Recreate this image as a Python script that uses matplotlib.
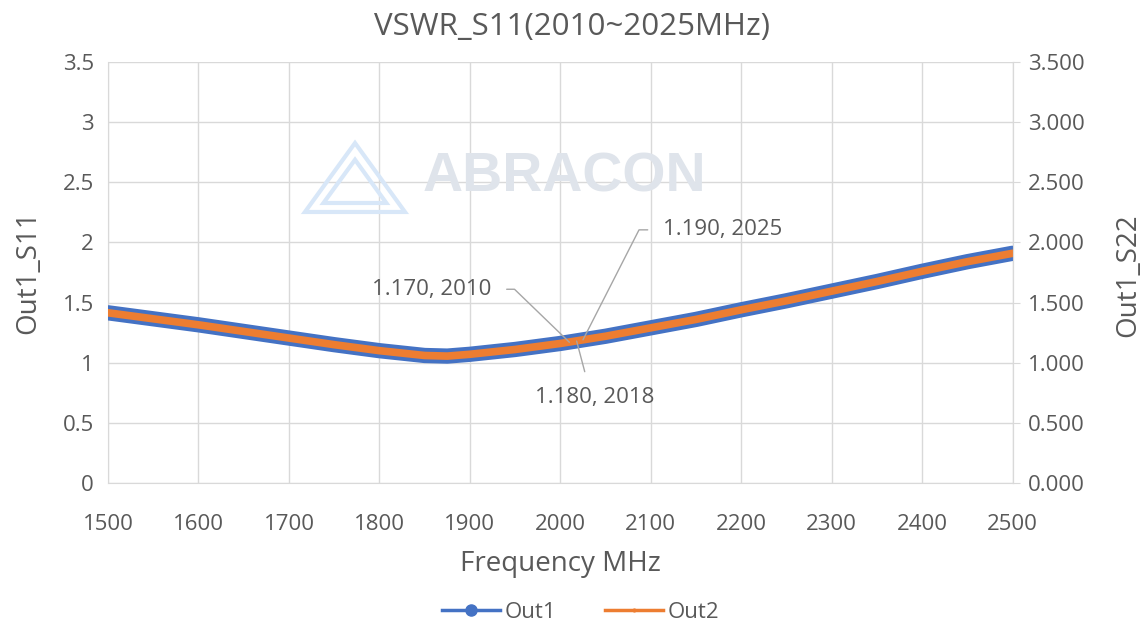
import matplotlib.pyplot as plt
from matplotlib.lines import Line2D
from matplotlib.patches import Polygon

# data
freq = [1500, 1550, 1600, 1650, 1700, 1750, 1800, 1850, 1875, 1900, 1950, 2000,
        2050, 2100, 2150, 2200, 2250, 2300, 2350, 2400, 2450, 2500]
out1 = [1.415, 1.365, 1.315, 1.26, 1.205, 1.15, 1.10, 1.06, 1.055, 1.07, 1.11, 1.16,
        1.22, 1.29, 1.36, 1.44, 1.515, 1.595, 1.675, 1.76, 1.84, 1.91]
out2 = [1.415, 1.365, 1.315, 1.26, 1.205, 1.15, 1.10, 1.06, 1.055, 1.07, 1.11, 1.16,
        1.22, 1.29, 1.36, 1.44, 1.515, 1.595, 1.675, 1.76, 1.84, 1.91]
x_ticks = [1500, 1600, 1700, 1800, 1900, 2000, 2100, 2200, 2300, 2400, 2500]
y_ticks = [0, 0.5, 1, 1.5, 2, 2.5, 3, 3.5]
left_labels = ['0', '0.5', '1', '1.5', '2', '2.5', '3', '3.5']
right_labels = ['0.000', '0.500', '1.000', '1.500', '2.000', '2.500', '3.000', '3.500']
notes = [(2010, 1.170, '1.170, 2010'), (2018, 1.180, '1.180, 2018'), (2025, 1.190, '1.190, 2025')]

plt.rcParams['font.family'] = ['Open Sans', 'DejaVu Sans']
txt = '#595959'
grid_c = '#d9d9d9'
blue = '#4472C4'
orange = '#ED7D31'
fs = 16

fig = plt.figure(figsize=(11.43, 6.24), dpi=100)
ax = fig.add_axes([0.0945, 0.226, 0.7915, 0.6746])

# watermark logo
fig.text(0.370, 0.716, 'ABRACON', fontsize=40, fontweight='bold', family='Liberation Sans',
         color='#dfe4eb', ha='left', va='center', zorder=0)
for pts in ([[0.2668, 0.6603], [0.3106, 0.7708], [0.3543, 0.6603]],
            [[0.2830, 0.6747], [0.3106, 0.7440], [0.3380, 0.6747]]):
    fig.patches.append(Polygon(pts, closed=True, fill=False, edgecolor='#d8e7f8',
                               linewidth=3, transform=fig.transFigure, zorder=0))

ax.plot(freq, out1, color=blue, linewidth=11, solid_capstyle='round', zorder=3)
ax.plot(freq, out2, color=orange, linewidth=5.5, solid_capstyle='round', zorder=4)

ax.set_xlim(1500, 2500)
ax.set_ylim(0, 3.5)
ax.set_xticks(x_ticks)
ax.set_yticks(y_ticks)
ax.set_yticklabels(left_labels)
ax.grid(True, color=grid_c, linewidth=1)
ax.set_axisbelow(True)
ax.set_facecolor('none')
ax.spines['top'].set_visible(False)
for s in ['left', 'right', 'bottom']:
    ax.spines[s].set_color(grid_c)
ax.tick_params(axis='both', length=0, labelsize=fs, labelcolor=txt)
ax.tick_params(axis='x', pad=22)
ax.tick_params(axis='y', pad=10)

ax2 = ax.twinx()
ax2.set_ylim(0, 3.5)
ax2.set_yticks(y_ticks)
ax2.set_yticklabels(right_labels)
ax2.tick_params(axis='y', length=5, color=grid_c, labelsize=fs, labelcolor=txt, pad=6)
for s in ['top', 'left', 'bottom']:
    ax2.spines[s].set_visible(False)
ax2.spines['right'].set_color(grid_c)

fig.text(0.50, 0.957, 'VSWR_S11(2010~2025MHz)', fontsize=22.5, color=txt, ha='center', va='center')
fig.text(0.49, 0.096, 'Frequency MHz', fontsize=20, color=txt, ha='center', va='center')
fig.text(0.025, 0.564, 'Out1_S11', fontsize=20, color=txt, ha='center', va='center', rotation=90)
fig.text(0.987, 0.559, 'Out1_S22', fontsize=20, color=txt, ha='center', va='center', rotation=90)

# data labels with leader lines
label_pos = [(-78, 53, 'right', (1, 0.5), 'angle,angleA=0,angleB=136,rad=0'),
             (18, -56, 'center', (0.45, 1), 'arc3'),
             (80, 110, 'left', (0, 0.5), 'angle,angleA=0,angleB=63,rad=0')]
for (fx, fy, lab), (dx, dy, ha, rp, cs) in zip(notes, label_pos):
    ax.annotate(lab, xy=(fx, fy), xytext=(dx, dy), textcoords='offset pixels',
                fontsize=fs, color=txt, ha=ha, va='center', zorder=5,
                arrowprops=dict(arrowstyle='-', color='#a6a6a6', lw=1, relpos=rp,
                                shrinkA=9, shrinkB=0, connectionstyle=cs))

handles = [Line2D([], [], color=blue, lw=2.5, marker='o', markersize=8),
           Line2D([], [], color=orange, lw=2.5, marker='.', markersize=4)]
fig.legend(handles, ['Out1', 'Out2'], loc='center', bbox_to_anchor=(0.508, 0.019),
           ncol=2, frameon=False, fontsize=fs, labelcolor=txt,
           handlelength=2.6, columnspacing=2.2, handletextpad=0.2)

fig.savefig('out.png', dpi=100)
